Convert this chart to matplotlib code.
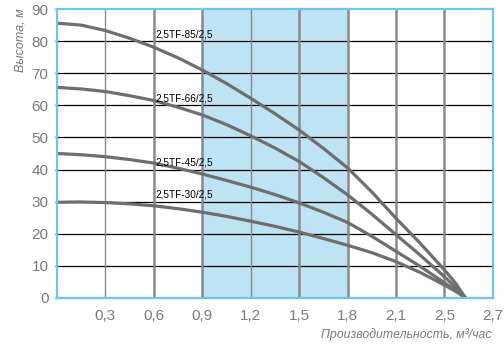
import matplotlib.pyplot as plt

plt.rcParams['font.family'] = ['Liberation Sans', 'DejaVu Sans']

# flow, m3/h
q = [0.0, 0.15, 0.3, 0.45, 0.6, 0.75, 0.9, 1.05, 1.2, 1.35, 1.5,
     1.65, 1.8, 1.95, 2.1, 2.25, 2.4, 2.47, 2.53]

# head, m
h85 = [85.6, 85.0, 83.3, 80.9, 78.1, 74.8, 71.0, 66.8, 62.2, 57.4, 52.3,
       46.6, 40.5, 33.0, 24.8, 17.0, 8.7, 4.5, 0.0]
h66 = [65.6, 65.1, 64.3, 63.0, 61.5, 59.4, 57.0, 54.0, 50.5, 46.7, 42.5,
       37.5, 32.1, 26.1, 19.7, 13.3, 6.6, 3.2, 0.0]
h45 = [45.0, 44.6, 44.0, 43.1, 42.0, 40.4, 38.6, 36.6, 34.5, 32.2, 29.6,
       26.7, 23.5, 19.2, 14.5, 9.8, 4.7, 2.3, 0.0]
h30 = [29.8, 29.9, 29.7, 29.3, 28.7, 27.8, 26.7, 25.4, 23.9, 22.3, 20.5,
       18.5, 16.4, 14.1, 11.3, 7.9, 4.0, 2.0, 0.0]

names = ['2,5TF-85/2,5', '2,5TF-66/2,5', '2,5TF-45/2,5', '2,5TF-30/2,5']
label_y = [80, 60, 40, 30]

xticks = [0.3, 0.6, 0.9, 1.2, 1.5, 1.8, 2.1, 2.4, 2.7]
xlabels = ['0,3', '0,6', '0,9', '1,2', '1,5', '1,8', '2,1', '2,5', '2,7']
yticks = [0, 10, 20, 30, 40, 50, 60, 70, 80, 90]

# working range
band = (0.9, 1.8)

blue = '#6cc5ee'
grey = '#7a7a7a'

fig = plt.figure(figsize=(5.04, 3.48), dpi=100)
ax = fig.add_axes([0.113, 0.144, 0.865, 0.830])

ax.axvspan(band[0], band[1], color='#bee3f5', zorder=0)

for y in yticks[1:-1]:
    ax.axhline(y, color='black', lw=0.9, zorder=1)
for x in xticks[:-1]:
    thin = x in (0.3, 1.2)
    ax.axvline(x, color='#8a8a8a', lw=1.0 if thin else 1.8, zorder=1)

for h in [h85, h66, h45, h30]:
    ax.plot(q, h, color='#6e6e6e', lw=2.3, solid_capstyle='round',
            solid_joinstyle='round', zorder=3)

for name, y in zip(names, label_y):
    ax.text(0.61, y + 0.6, name, fontsize=7.2, color='black',
            va='bottom', ha='left', zorder=4)

ax.set_xlim(0, 2.7)
ax.set_ylim(0, 90)
ax.set_xticks(xticks)
ax.set_xticklabels(xlabels)
ax.set_yticks(yticks)

for s in ax.spines.values():
    s.set_color(blue)
    s.set_linewidth(1.6)
    s.set_zorder(5)

ax.tick_params(axis='y', colors=blue, length=2, width=1, labelsize=11,
               labelcolor=grey, pad=4)
ax.tick_params(axis='x', length=0, labelsize=11, labelcolor=grey, pad=8)

fig.text(0.04, 0.975, 'Высота, м', rotation=90, style='italic', color=grey,
         fontsize=9, ha='center', va='top')
fig.text(0.975, 0.02, 'Производительность, м³/час', style='italic', color=grey,
         fontsize=8.8, ha='right', va='bottom')

fig.savefig('out.png', dpi=100)
